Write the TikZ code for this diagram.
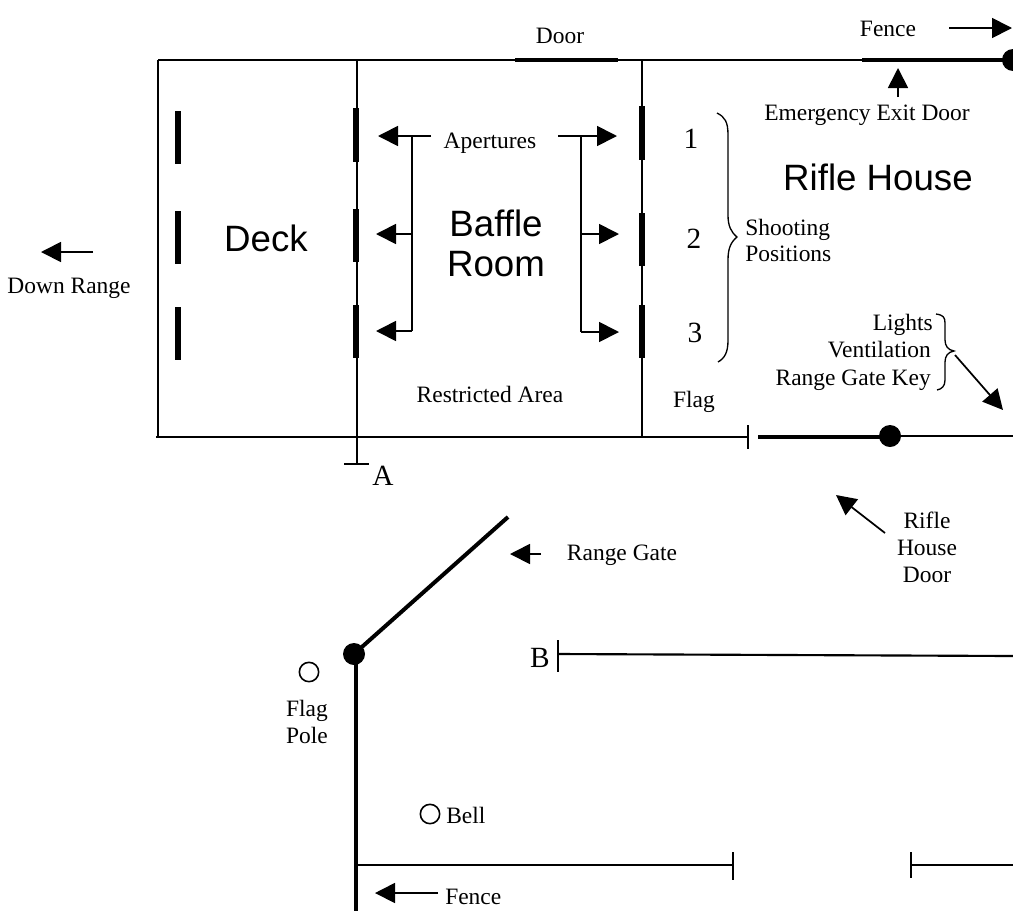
\documentclass[tikz,border=0pt]{standalone}
\usepackage{fontspec}
\setmainfont{Liberation Serif}
\setsansfont{Liberation Sans}
\usetikzlibrary{arrows.meta}
\newcommand{\fntsm}{\fontsize{17.6}{20}\selectfont}
\newcommand{\fntmd}{\fontsize{22}{24}\selectfont}
\newcommand{\fntlg}{\sffamily\fontsize{27.5}{30}\selectfont}
\tikzset{
  wall/.style={line width=1.6pt,black},
  fence post/.style={line width=2.4pt,black},
  thick wall/.style={line width=3pt,black},
  aperture/.style={line width=4.5pt,black},
  pointer/.style={line width=1.3pt,-{Triangle[length=15pt,width=15pt]}},
  thinline/.style={line width=1.2pt},
  brace/.style={line width=1pt},
  label/.style={inner sep=0pt,anchor=base,font=\fntsm},
  num/.style={inner sep=0pt,anchor=base,font=\fntmd},
  big/.style={inner sep=0pt,anchor=base,font=\fntlg},
  pivot/.style={circle,fill=black,inner sep=0pt,minimum size=16.5pt},
  post/.style={circle,draw,line width=1.2pt,inner sep=0pt,minimum size=14.5pt}
}
\begin{document}
\begin{tikzpicture}[x=0.75pt,y=-0.75pt]
\useasboundingbox (0,0) rectangle (1013,911);
\clip (0,0) rectangle (1013,911);
% walls
\draw[wall] (158,60) -- (862,60);
\draw[wall] (158,60) -- (158,437);
\draw[wall] (156,437) -- (748,437);
\draw[wall] (357,60) -- (357,464);
\draw[wall] (642,60) -- (642,437);
\draw[wall] (748,425) -- (748,449);
\draw[wall] (344,464) -- (369,464);
\draw[wall] (890,436) -- (1013,436);
% doors
\draw[thick wall] (515,60) -- (618,60);
\draw[thick wall] (862,60) -- (1013,60);
\draw[thick wall] (758,436.5) -- (890,436.5);
\node[pivot] (pa) at (1013,60) {};
\node[pivot] (pb) at (890,436) {};
% apertures
\foreach \a/\b in {111/164,211/264,307/360} \draw[aperture] (177.5,\a) -- (177.5,\b);
\foreach \a/\b in {108/162,209/262,305/358} \draw[aperture] (356,\a) -- (356,\b);
\foreach \a/\b in {106/160,213/266,305/358} \draw[aperture] (642,\a) -- (642,\b);
% aperture pointers
\draw[pointer] (431,136) -- (378,136);
\draw[thinline] (412,136) -- (412,331);
\draw[pointer] (412,234) -- (376,234);
\draw[pointer] (412,331) -- (376,331);
\draw[pointer] (558,136) -- (617,136);
\draw[thinline] (581,136) -- (581,332);
\draw[pointer] (581,234) -- (619,234);
\draw[pointer] (581,332) -- (619,332);
% other pointers
\draw[pointer] (93,252) -- (41,252);
\draw[pointer] (949,28) -- (1012,28);
\draw[pointer] (898,97) -- (898,68);
\draw[pointer] (541,554) -- (510,554);
\draw[pointer] (885,533) -- (836,495);
\draw[pointer] (955,355) -- (1003,410);
\draw[pointer] (438,893) -- (375,893);
% braces
\draw[brace] (717,113) .. controls (725,117) and (728,122) .. (728,135) -- (728,215) .. controls (728,226) and (731,232) .. (737,237) .. controls (731,242) and (728,248) .. (728,260) -- (728,340) .. controls (728,352) and (725,358) .. (718,362);
\draw[brace] (936,314) .. controls (943,315) and (945,317) .. (945,323) -- (945,340) .. controls (945,346) and (948,350) .. (954,351) .. controls (948,352) and (945,356) .. (945,362) -- (945,380) .. controls (945,386) and (942,389) .. (937,390);
% range gate and fence
\draw[thick wall] (354,654) -- (508,517);
\draw[fence post] (356,654) -- (356,911);
\node[pivot] (pc) at (354,654) {};
\draw[wall] (558,640) -- (558,672);
\draw[wall] (558,654) -- (1013,656);
\draw[wall] (357,865) -- (733,865);
\draw[wall] (733,852) -- (733,880);
\draw[wall] (911,852) -- (911,878);
\draw[wall] (911,865) -- (1013,865);
\node[post] (flagpole) at (309,672) {};
\node[post] (bell) at (430,814) {};
% text
\node[label] (door) at (560,43) {Door};
\node[label] (fencea) at (888,36) {Fence};
\node[label] (exit) at (867,120) {Emergency Exit Door};
\node[num] (one) at (691,148) {1};
\node[num] (two) at (694,248) {2};
\node[num] (three) at (695,342) {3};
\node[big] (rifle) at (878,190.5) {Rifle House};
\node[big] (deck) at (266,251) {Deck};
\node[big] (baffle) at (496,236) {Baffle};
\node[big] (room) at (496,276) {Room};
\node[label] (apert) at (490,148) {Apertures};
\node[label,anchor=base west] (shoot) at (745,235) {Shooting};
\node[label,anchor=base west] (posit) at (745,261) {Positions};
\node[label] (down) at (69,293) {Down Range};
\node[label] (restr) at (490,402) {Restricted Area};
\node[label] (flag) at (694,407) {Flag};
\node[label,anchor=base east] (lights) at (933,330) {Lights};
\node[label,anchor=base east] (vent) at (931,357) {Ventilation};
\node[label,anchor=base east] (key) at (931,385) {Range Gate Key};
\node[num] (A) at (383,485) {A};
\node[num] (B) at (540,667) {B};
\node[label] (gate) at (622,560) {Range Gate};
\node[label] (rh1) at (927,528) {Rifle};
\node[label] (rh2) at (927,555) {House};
\node[label] (rh3) at (927,582) {Door};
\node[label] (fp1) at (307,716) {Flag};
\node[label] (fp2) at (307,743) {Pole};
\node[label,anchor=base west] (belltxt) at (446,823) {Bell};
\node[label,anchor=base west] (fenceb) at (445,904) {Fence};
\end{tikzpicture}
\end{document}
